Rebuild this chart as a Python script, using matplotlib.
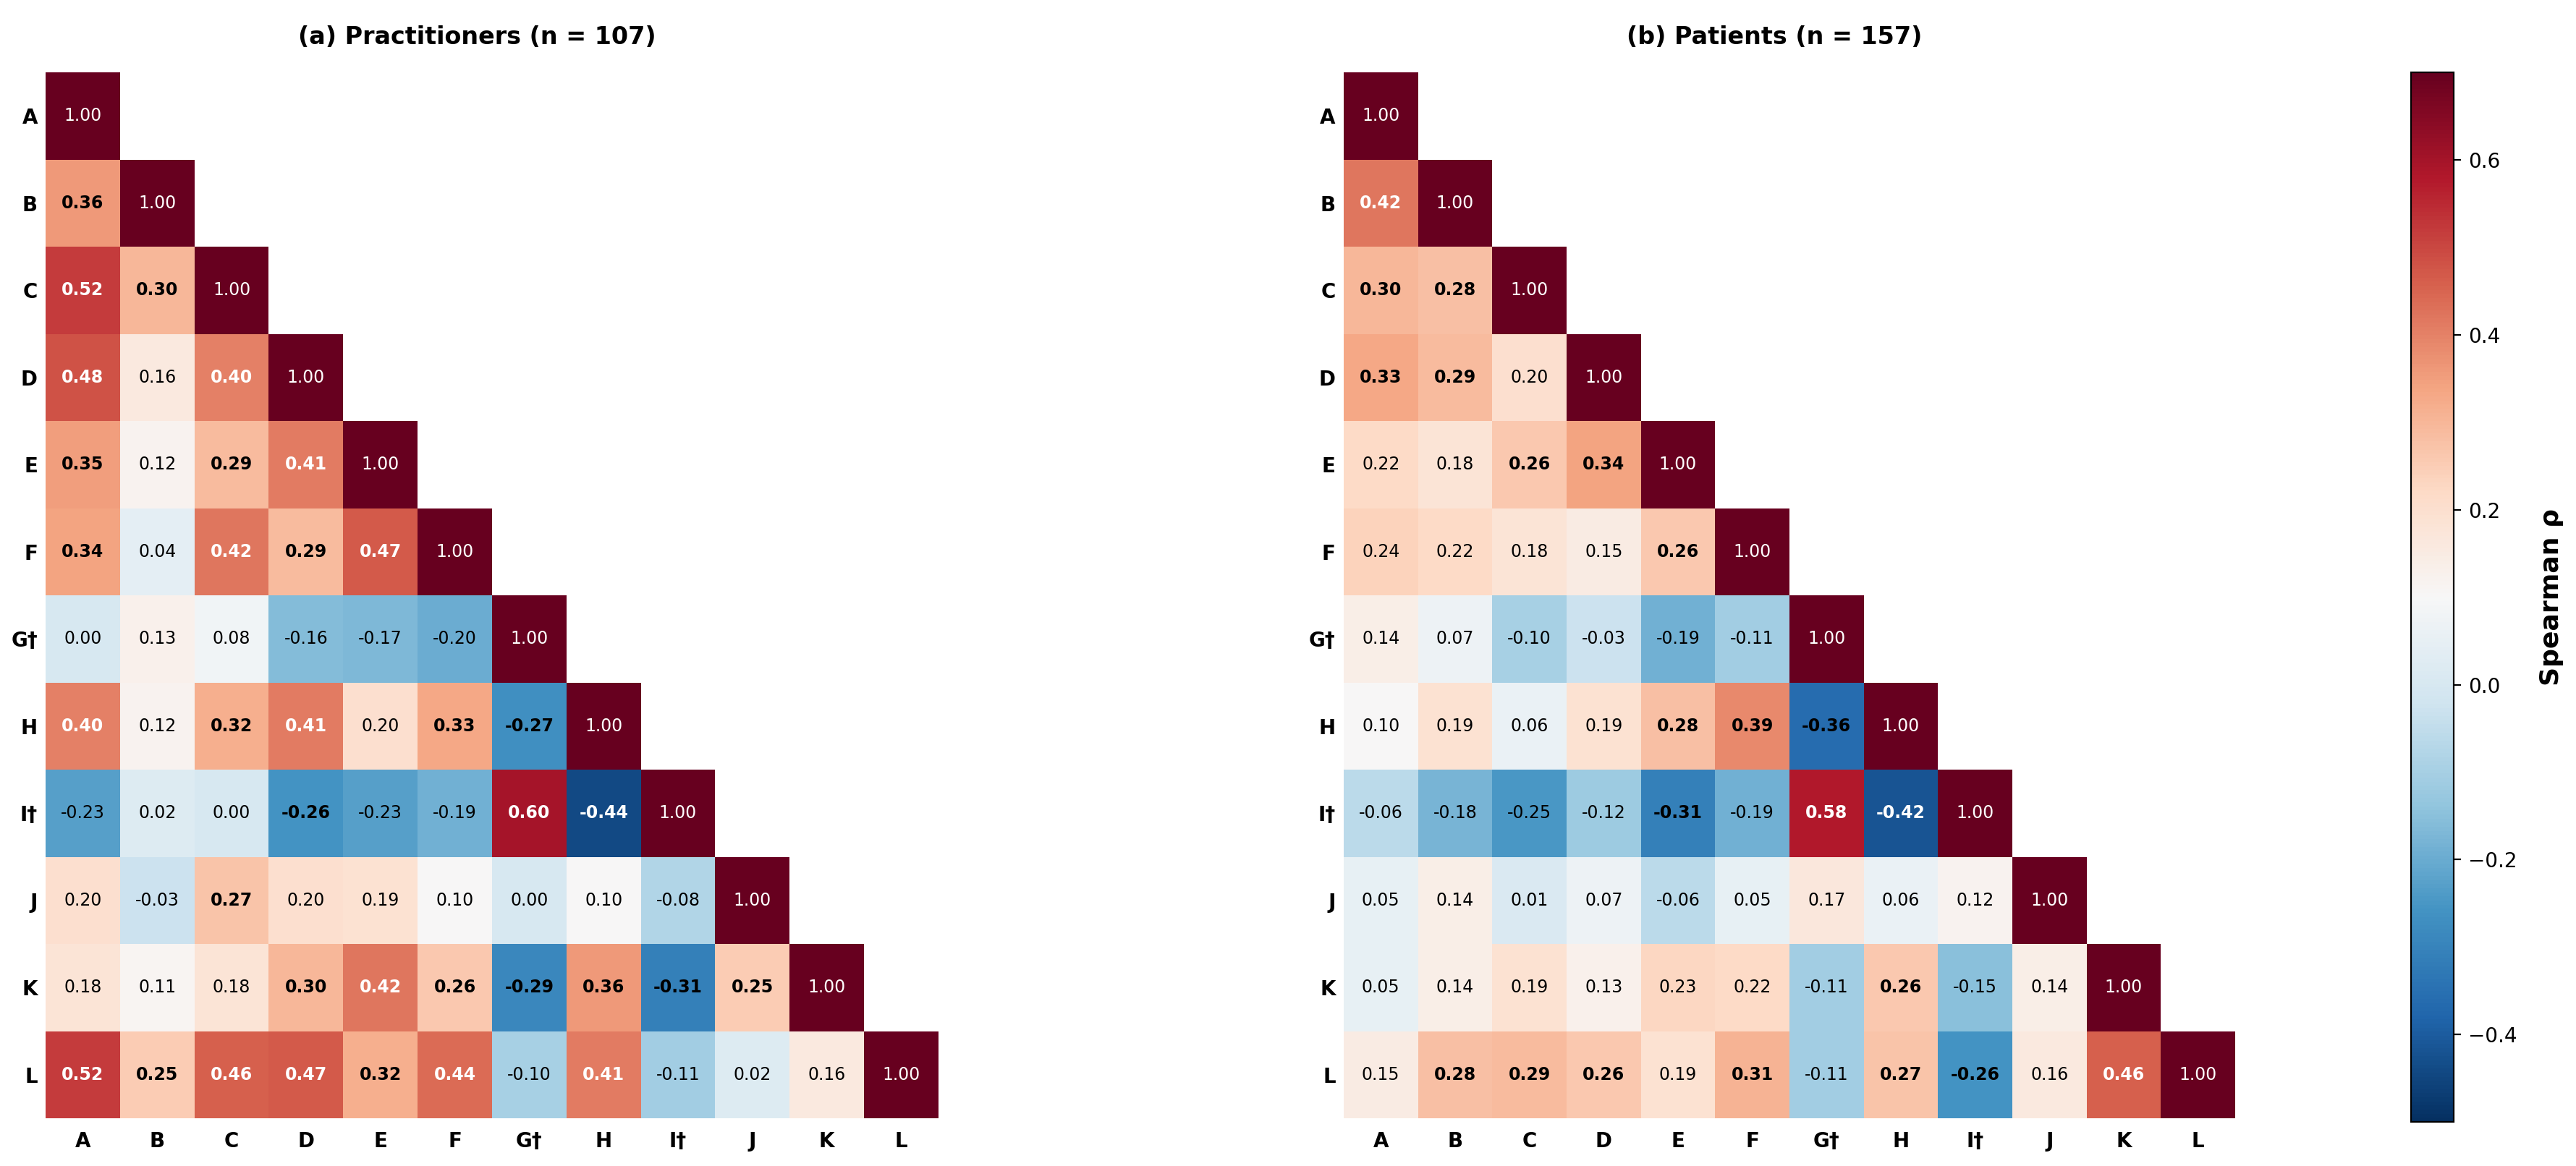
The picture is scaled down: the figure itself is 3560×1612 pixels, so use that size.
import numpy as np
import matplotlib
matplotlib.use('Agg')
import matplotlib.pyplot as plt

labels = ['A', 'B', 'C', 'D', 'E', 'F', 'G†', 'H', 'I†', 'J', 'K', 'L']

# lower triangle, row by row (diagonal included)
practitioners = [
    [1.00],
    [0.36, 1.00],
    [0.52, 0.30, 1.00],
    [0.48, 0.16, 0.40, 1.00],
    [0.35, 0.12, 0.29, 0.41, 1.00],
    [0.34, 0.04, 0.42, 0.29, 0.47, 1.00],
    [0.00, 0.13, 0.08, -0.16, -0.17, -0.20, 1.00],
    [0.40, 0.12, 0.32, 0.41, 0.20, 0.33, -0.27, 1.00],
    [-0.23, 0.02, 0.00, -0.26, -0.23, -0.19, 0.60, -0.44, 1.00],
    [0.20, -0.03, 0.27, 0.20, 0.19, 0.10, 0.00, 0.10, -0.08, 1.00],
    [0.18, 0.11, 0.18, 0.30, 0.42, 0.26, -0.29, 0.36, -0.31, 0.25, 1.00],
    [0.52, 0.25, 0.46, 0.47, 0.32, 0.44, -0.10, 0.41, -0.11, 0.02, 0.16, 1.00],
]

patients = [
    [1.00],
    [0.42, 1.00],
    [0.30, 0.28, 1.00],
    [0.33, 0.29, 0.20, 1.00],
    [0.22, 0.18, 0.26, 0.34, 1.00],
    [0.24, 0.22, 0.18, 0.15, 0.26, 1.00],
    [0.14, 0.07, -0.10, -0.03, -0.19, -0.11, 1.00],
    [0.10, 0.19, 0.06, 0.19, 0.28, 0.39, -0.36, 1.00],
    [-0.06, -0.18, -0.25, -0.12, -0.31, -0.19, 0.58, -0.42, 1.00],
    [0.05, 0.14, 0.01, 0.07, -0.06, 0.05, 0.17, 0.06, 0.12, 1.00],
    [0.05, 0.14, 0.19, 0.13, 0.23, 0.22, -0.11, 0.26, -0.15, 0.14, 1.00],
    [0.15, 0.28, 0.29, 0.26, 0.19, 0.31, -0.11, 0.27, -0.26, 0.16, 0.46, 1.00],
]

titles = ['(a) Practitioners (n = 107)', '(b) Patients (n = 157)']
sig_cut = [0.245, 0.255]   # |rho| from which the value is shown in bold

VMIN, VMAX = -0.5, 0.7


def draw_panel(ax, rows, title, cut):
    n = len(labels)
    M = np.full((n, n), np.nan)
    for i, row in enumerate(rows):
        M[i, :len(row)] = row
    mesh = ax.pcolormesh(np.arange(n + 1), np.arange(n + 1), np.ma.masked_invalid(M),
                         cmap='RdBu_r', vmin=VMIN, vmax=VMAX, linewidth=0)
    ax.set_xlim(0, n)
    ax.set_ylim(n, 0)
    for i in range(n):
        for j in range(i + 1):
            v = M[i, j]
            if i == j:
                ax.text(j + 0.5, i + 0.5, '%.2f' % v, ha='center', va='center',
                        fontsize=8.5, color='white')
                continue
            bold = abs(v) >= cut
            col = 'white' if abs(v) >= 0.395 else 'black'
            ax.text(j + 0.5, i + 0.5, '%.2f' % v, ha='center', va='center',
                    fontsize=8.5, color=col, fontweight='bold' if bold else 'normal')
    ax.set_xticks(np.arange(n) + 0.5)
    ax.set_yticks(np.arange(n) + 0.5)
    ax.set_xticklabels(labels, fontsize=10, fontweight='bold')
    ax.set_yticklabels(labels, fontsize=10, fontweight='bold', rotation=0)
    ax.tick_params(axis='x', length=0, pad=6.5)
    ax.tick_params(axis='y', length=0, pad=4)
    for s in ax.spines.values():
        s.set_visible(False)
    ax.set_title(title, fontsize=12, fontweight='bold', pad=14, x=0.483)
    return mesh


fig = plt.figure(figsize=(17.8, 8.06), dpi=200)
ax1 = fig.add_axes([0.0177, 0.0409, 0.3466, 0.897])
ax2 = fig.add_axes([0.5216, 0.0409, 0.3461, 0.897])
cax = fig.add_axes([0.936, 0.0378, 0.0166, 0.900])

draw_panel(ax1, practitioners, titles[0], sig_cut[0])
mesh = draw_panel(ax2, patients, titles[1], sig_cut[1])

cb = fig.colorbar(mesh, cax=cax)
cb.set_ticks([-0.4, -0.2, 0.0, 0.2, 0.4, 0.6])
cb.ax.tick_params(labelsize=10)
cb.set_label('Spearman ρ', fontsize=13, fontweight='bold', labelpad=11)

fig.savefig('out.png', dpi=200)
